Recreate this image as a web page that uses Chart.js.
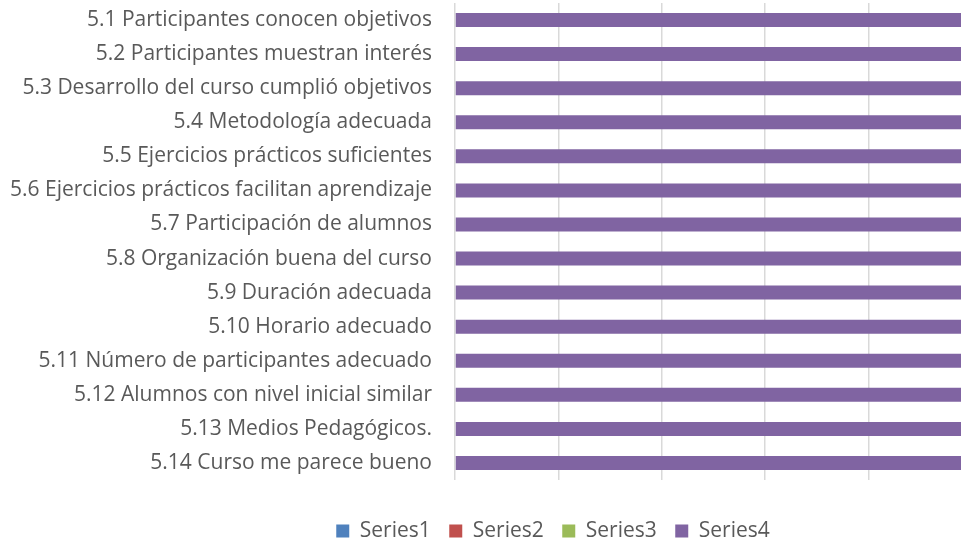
<!DOCTYPE html>
<html>
<head>
<meta charset="utf-8">
<script src="https://cdn.jsdelivr.net/npm/chart.js@4.4.0/dist/chart.umd.min.js"></script>
<style>
  html, body { margin: 0; padding: 0; background: #fff; overflow: hidden; }
  #wrap { width: 1106px; height: 544px; }
</style>
</head>
<body>
<div id="wrap"><canvas id="myChart" width="1106" height="544"></canvas></div>
<script>
var categories = [
  '5.1 Participantes conocen objetivos',
  '5.2 Participantes muestran interés',
  '5.3 Desarrollo del curso cumplió objetivos',
  '5.4 Metodología adecuada',
  '5.5 Ejercicios prácticos suficientes',
  '5.6 Ejercicios prácticos facilitan aprendizaje',
  '5.7 Participación de alumnos',
  '5.8 Organización buena del curso',
  '5.9 Duración adecuada',
  '5.10 Horario adecuado',
  '5.11 Número de participantes adecuado',
  '5.12 Alumnos con nivel inicial similar',
  '5.13 Medios Pedagógicos.',
  '5.14 Curso me parece bueno'
];
var series1 = [0, 0, 0, 0, 0, 0, 0, 0, 0, 0, 0, 0, 0, 0];
var series2 = [0, 0, 0, 0, 0, 0, 0, 0, 0, 0, 0, 0, 0, 0];
var series3 = [0, 0, 0, 0, 0, 0, 0, 0, 0, 0, 0, 0, 0, 0];
var series4 = [100, 100, 100, 100, 100, 100, 100, 100, 100, 100, 100, 100, 100, 100];
var seriesNames = ['Series1', 'Series2', 'Series3', 'Series4'];
var seriesColors = ['#4f81bd', '#c0504d', '#9bbb59', '#8064a2'];

var textColor = '#595959';
var fontFamily = '"Open Sans", sans-serif';

function makeSet(i, values) {
  return {
    label: seriesNames[i],
    data: values,
    backgroundColor: seriesColors[i],
    borderWidth: 0,
    barPercentage: 1,
    categoryPercentage: 0.41
  };
}

var chart = new Chart(document.getElementById('myChart'), {
  type: 'bar',
  data: {
    labels: categories,
    datasets: [
      makeSet(0, series1),
      makeSet(1, series2),
      makeSet(2, series3),
      makeSet(3, series4)
    ]
  },
  options: {
    indexAxis: 'y',
    responsive: false,
    animation: false,
    layout: {
      autoPadding: false,
      padding: { left: 0, right: 0, top: 3, bottom: -7.5 }
    },
    plugins: {
      legend: {
        position: 'bottom',
        labels: {
          color: textColor,
          font: { family: fontFamily, size: 21 },
          boxWidth: 13,
          boxHeight: 13,
          padding: 18.5
        }
      },
      tooltip: { enabled: false }
    },
    scales: {
      x: {
        stacked: true,
        min: 0,
        // the plot runs on past the right edge of the page
        max: 126,
        ticks: { stepSize: 20, display: false },
        grid: { color: '#d9d9d9', lineWidth: 1.5, drawTicks: false },
        border: { display: false },
        afterFit: function(axis) { axis.height = 22; }
      },
      y: {
        stacked: true,
        grid: { display: false, drawTicks: false },
        border: { display: false },
        ticks: {
          color: textColor,
          font: { family: fontFamily, size: 21 },
          padding: 23,
          autoSkip: false
        },
        afterFit: function(axis) {
          axis.width = 455;
          axis.paddingTop = 0;
          axis.paddingBottom = 0;
        }
      }
    }
  }
});
</script>
</body>
</html>
